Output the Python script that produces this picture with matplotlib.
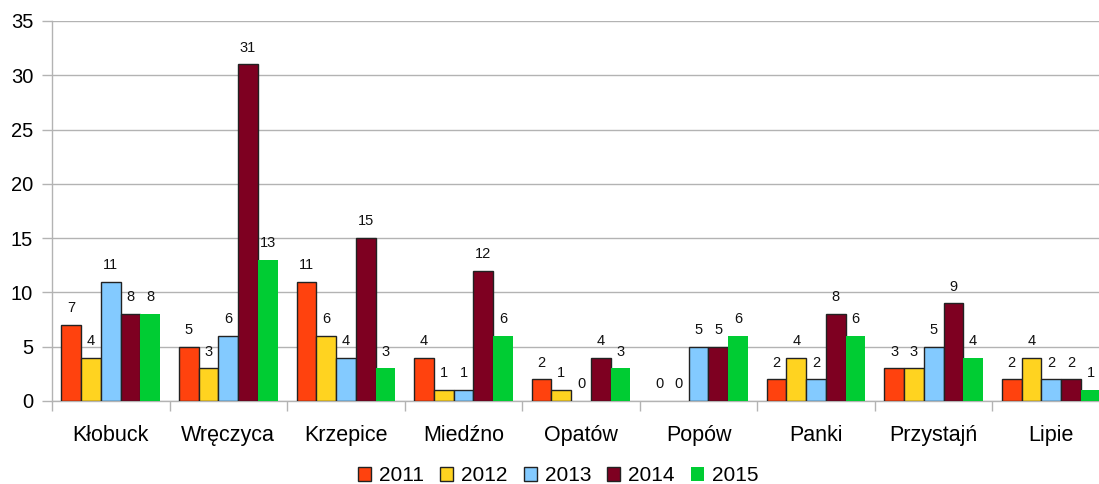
import matplotlib
matplotlib.use("Agg")
from matplotlib import pyplot as plt
import numpy as np

plt.rcParams['font.family'] = ['Liberation Sans', 'DejaVu Sans']

categories = ['Kłobuck', 'Wręczyca', 'Krzepice', 'Miedźno', 'Opatów',
              'Popów', 'Panki', 'Przystajń', 'Lipie']
years = ['2011', '2012', '2013', '2014', '2015']
v2011 = [7, 5, 11, 4, 2, 0, 2, 3, 2]
v2012 = [4, 3, 6, 1, 1, 0, 4, 3, 4]
v2013 = [11, 6, 4, 1, 0, 5, 2, 5, 2]
v2014 = [8, 31, 15, 12, 4, 5, 8, 9, 2]
v2015 = [8, 13, 3, 6, 3, 6, 6, 4, 1]
series = [v2011, v2012, v2013, v2014, v2015]
colors = ['#ff420e', '#ffd320', '#83caff', '#7e0021', '#00cc33']
edges = ['#222222', '#222222', '#222222', '#222222', 'none']

grid_col = '#b3b3b3'

fig = plt.figure(figsize=(10.99, 4.84), dpi=100)
ax = fig.add_axes([52 / 1099, 83 / 484, 1058 / 1099, 380 / 484])

x = np.arange(len(categories))
w = 0.168
for i, (vals, c, ec) in enumerate(zip(series, colors, edges)):
    pos = x - 2 * w + i * w
    lw = [1.0 if v > 0 else 0 for v in vals]
    ax.bar(pos, vals, w, color=c, edgecolor=ec, linewidth=lw,
           label=years[i], zorder=3)
    for xp, v in zip(pos, vals):
        ax.annotate(str(v), (xp, v), xytext=(0, 7), textcoords='offset points',
                    ha='center', va='bottom', fontsize=10.5, color='#111111')

ax.set_xlim(-0.5, len(categories) - 0.5)
ax.set_ylim(0, 35)
ax.set_yticks(range(0, 36, 5))
ax.yaxis.grid(True, color=grid_col, linewidth=1.0, zorder=0)

ax.set_xticks(x)
ax.set_xticklabels(categories)
ax.set_xticks(np.arange(-0.5, len(categories)), minor=True)
ax.tick_params(axis='x', which='major', length=0, pad=17, labelsize=15.5)
ax.tick_params(axis='x', which='minor', length=7.5, width=1, color=grid_col)
ax.tick_params(axis='y', length=7.5, width=1, color=grid_col, pad=6,
               labelsize=14.5)

for s in ['top', 'right']:
    ax.spines[s].set_visible(False)
for s in ['left', 'bottom']:
    ax.spines[s].set_color(grid_col)
    ax.spines[s].set_linewidth(1.0)

# legend patches: green has no outline like the bars
leg = fig.legend(loc='center', bbox_to_anchor=(0.508, 0.017), ncol=5,
                 frameon=False, fontsize=15, handlelength=0.63,
                 handleheight=0.63, handletextpad=0.38, columnspacing=0.77)

fig.savefig('out.png', dpi=100)
